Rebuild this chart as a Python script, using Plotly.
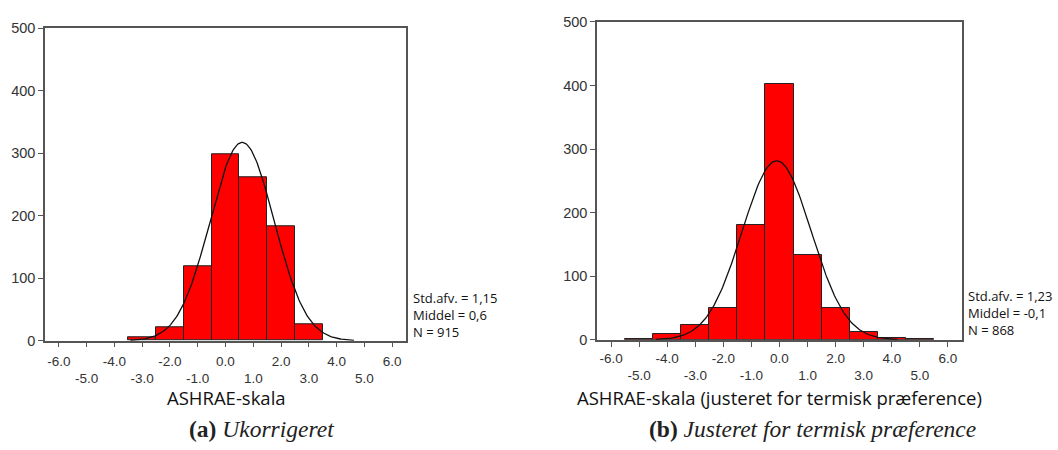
import numpy as np
import plotly.graph_objects as go

# ---- data ----
bins_a = [-3, -2, -1, 0, 1, 2, 3]
counts_a = [6, 21, 119, 298, 261, 183, 27]
sd_a, mean_a, n_a = 1.15, 0.6, 915

bins_b = [-5, -4, -3, -2, -1, 0, 1, 2, 3, 4, 5]
counts_b = [2, 9, 23, 50, 181, 402, 134, 50, 13, 3, 1]
sd_b, mean_b, n_b = 1.23, -0.1, 868

tick_vals = list(range(-6, 7))
tick_text = [("%.1f" % v) if v % 2 == 0 else ("<br>%.1f" % v) for v in tick_vals]
y_ticks = [0, 100, 200, 300, 400, 500]

title_a = "ASHRAE-skala"
title_b = "ASHRAE-skala (justeret for termisk præference)"
cap_a = "<b>(a)</b> <i>Ukorrigeret</i>"
cap_b = "<b>(b)</b> <i>Justeret for termisk præference</i>"
stats_a = ["Std.afv. = 1,15", "Middel = 0,6", "N = 915"]
stats_b = ["Std.afv. = 1,23", "Middel = -0,1", "N = 868"]


def normal_curve(mean, sd, n):
    xs = np.linspace(mean - 3.5 * sd, mean + 3.5 * sd, 200)
    ys = n / (sd * np.sqrt(2 * np.pi)) * np.exp(-0.5 * ((xs - mean) / sd) ** 2)
    return xs, ys


W, H = 1058, 450
fig = go.Figure()

for i, (bins, counts, m, s, n) in enumerate([(bins_a, counts_a, mean_a, sd_a, n_a),
                                              (bins_b, counts_b, mean_b, sd_b, n_b)]):
    xa = "x" if i == 0 else "x2"
    ya = "y" if i == 0 else "y2"
    fig.add_trace(go.Bar(x=bins, y=counts, width=1, xaxis=xa, yaxis=ya,
                         marker=dict(color="#ff0000", line=dict(color="#222222", width=1)),
                         showlegend=False))
    cx, cy = normal_curve(m, s, n)
    fig.add_trace(go.Scatter(x=cx, y=cy, mode="lines", xaxis=xa, yaxis=ya,
                             line=dict(color="#111111", width=1.3), showlegend=False))

axis_common = dict(showline=True, linecolor="#555555", linewidth=1.5, mirror=True,
                   showgrid=False, zeroline=False, ticks="outside", ticklen=5,
                   tickcolor="#555555", tickwidth=1.2)
xfont = dict(family="Liberation Sans, Arial", size=13.5, color="#333333")
yfont = dict(family="Liberation Sans, Arial", size=14.5, color="#333333")

dom_a = [45 / W, 406 / W]
dom_b = [597 / W, 962 / W]
ydom_a = [1 - 345 / H, 1 - 21 / H]
ydom_b = [1 - 344 / H, 1 - 14.5 / H]

fig.update_layout(
    width=W, height=H, margin=dict(l=0, r=0, t=0, b=0),
    paper_bgcolor="white", plot_bgcolor="white", bargap=0,
    xaxis=dict(domain=dom_a, range=[-6.5, 6.5], anchor="y", tickvals=tick_vals,
               ticktext=tick_text, tickfont=xfont, ticklabelstandoff=2, **axis_common),
    yaxis=dict(domain=ydom_a, range=[0, 500], anchor="x", tickvals=y_ticks,
               tickfont=yfont, **axis_common),
    xaxis2=dict(domain=dom_b, range=[-6.5, 6.5], anchor="y2", tickvals=tick_vals,
                ticktext=tick_text, tickfont=xfont, ticklabelstandoff=0, **axis_common),
    yaxis2=dict(domain=ydom_b, range=[0, 500], anchor="x2", tickvals=y_ticks,
                tickfont=yfont, **axis_common),
)

ann = []
tfont = dict(family="Open Sans", size=18.5, color="#111111")
ann.append(dict(text=title_a, x=226 / W, y=1 - 404 / H, xref="paper", yref="paper",
                showarrow=False, font=tfont, xanchor="center", yanchor="middle"))
ann.append(dict(text=title_b, x=779 / W, y=1 - 403.5 / H, xref="paper", yref="paper",
                showarrow=False, font=tfont, xanchor="center", yanchor="middle"))
cfont = dict(family="Liberation Serif, Times New Roman", size=23.5, color="#222222")
ann.append(dict(text=cap_a, x=261 / W, y=1 - 437 / H, xref="paper", yref="paper",
                showarrow=False, font=cfont, xanchor="center", yanchor="middle"))
ann.append(dict(text=cap_b, x=812 / W, y=1 - 437 / H, xref="paper", yref="paper",
                showarrow=False, font=cfont, xanchor="center", yanchor="middle"))
sfont = dict(family="Open Sans", size=13, color="#111111")
for lines, x0, y0 in [(stats_a, 411, 318), (stats_b, 966, 316)]:
    ann.append(dict(text="<br>".join(lines), x=x0 / W, y=1 - y0 / H, xref="paper",
                    yref="paper", showarrow=False, font=sfont, xanchor="left",
                    yanchor="middle", align="left"))
fig.update_layout(annotations=ann)

fig.write_html("out.html")
